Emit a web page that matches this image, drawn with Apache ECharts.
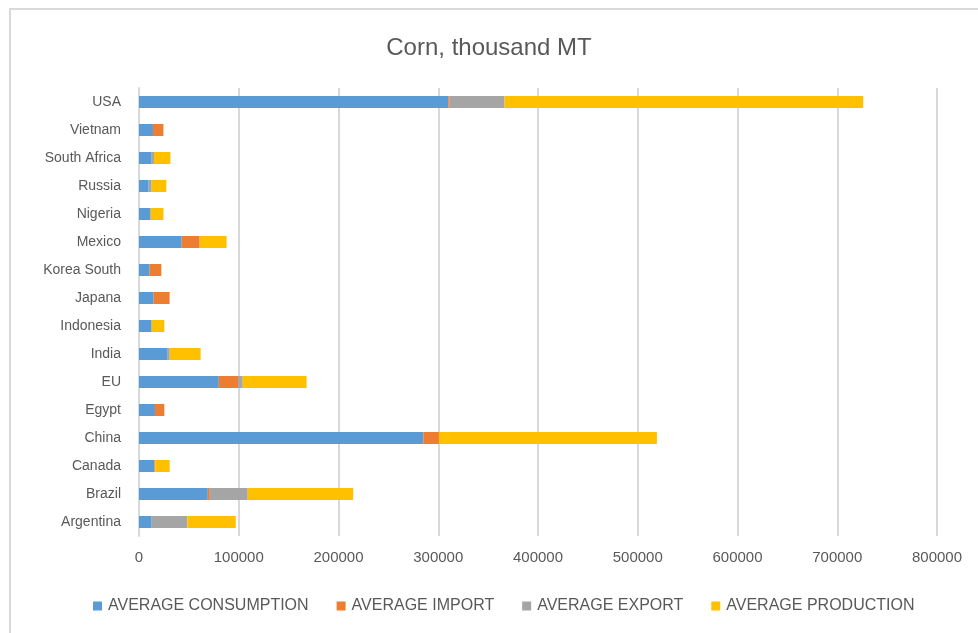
<!DOCTYPE html>
<html>
<head>
<meta charset="utf-8">
<script src="https://cdn.jsdelivr.net/npm/echarts@6/dist/echarts.min.js"></script>
<style>
  html, body { margin: 0; padding: 0; background: #fff; }
  #main { width: 978px; height: 633px; }
</style>
</head>
<body>
<div id="main"></div>
<script>
// categories, bottom to top as drawn
var countries = ['Argentina', 'Brazil', 'Canada', 'China', 'Egypt', 'EU', 'India', 'Indonesia',
  'Japana', 'Korea South', 'Mexico', 'Nigeria', 'Russia', 'South Africa', 'Vietnam', 'USA'];

var consumption = [12700, 69000, 15400, 285000, 16000, 80000, 28800, 12700,
  14700, 10700, 42800, 11700, 9700, 12700, 14000, 310000];
var imports = [0, 2000, 1000, 15700, 9400, 19300, 0, 0,
  16000, 11700, 18000, 0, 0, 0, 10500, 1500];
var exports = [35800, 38000, 0, 0, 0, 4700, 2000, 0,
  0, 0, 0, 0, 3000, 2300, 0, 55000];
var production = [48500, 105700, 14400, 218500, 0, 64000, 31000, 12700,
  0, 0, 27000, 12800, 14700, 16500, 0, 359500];

var seriesNames = ['AVERAGE CONSUMPTION', 'AVERAGE IMPORT', 'AVERAGE EXPORT', 'AVERAGE PRODUCTION'];
var seriesColors = ['#5B9BD5', '#ED7D31', '#A5A5A5', '#FFC000'];
var seriesData = [consumption, imports, exports, production];

var chart = echarts.init(document.getElementById('main'));
var font = 'Liberation Sans, Arial, sans-serif';

chart.setOption({
  animation: false,
  backgroundColor: '#fff',
  textStyle: { fontFamily: font },
  title: {
    text: 'Corn, thousand MT',
    left: 'center',
    top: 31,
    textStyle: { fontSize: 24, fontWeight: 'normal', color: '#595959', fontFamily: font }
  },
  legend: {
    top: 593,
    left: 88,
    itemWidth: 9,
    itemHeight: 9,
    itemGap: 28,
    icon: 'rect',
    textStyle: { fontSize: 16, color: '#595959', padding: [0, 0, 0, 1] },
    data: seriesNames
  },
  grid: { left: 139, right: 41, top: 88, bottom: 97 },
  xAxis: {
    type: 'value',
    min: 0,
    max: 800000,
    interval: 100000,
    axisLine: { show: false },
    axisTick: { show: false },
    axisLabel: { color: '#595959', fontSize: 15, margin: 14, formatter: function (v) { return String(v); } },
    splitLine: { lineStyle: { color: '#d9d9d9', width: 2 } }
  },
  yAxis: {
    type: 'category',
    data: countries,
    axisLine: { show: true, lineStyle: { color: '#d9d9d9', width: 2 } },
    axisTick: { show: false },
    axisLabel: { color: '#595959', fontSize: 14, margin: 18 }
  },
  series: seriesData.map(function (d, i) {
    return {
      name: seriesNames[i],
      type: 'bar',
      stack: 'total',
      barWidth: 12,
      itemStyle: { color: seriesColors[i] },
      data: d
    };
  }),
  graphic: [
    { type: 'line', shape: { x1: 9, y1: 9, x2: 978, y2: 9 }, style: { stroke: '#d9d9d9', lineWidth: 2 } },
    { type: 'line', shape: { x1: 10, y1: 9, x2: 10, y2: 633 }, style: { stroke: '#d9d9d9', lineWidth: 2 } }
  ]
});
</script>
</body>
</html>
